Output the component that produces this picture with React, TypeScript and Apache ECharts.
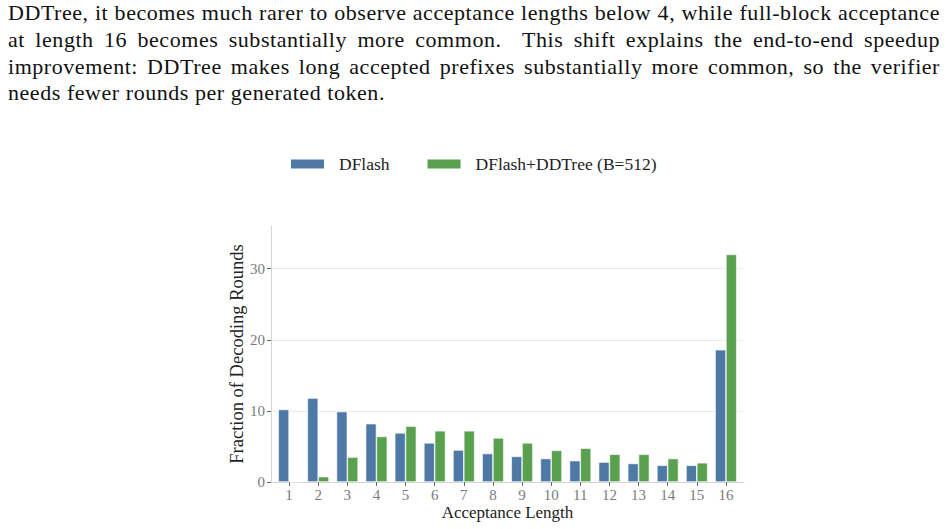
import React, { useEffect, useRef } from "react";
import * as echarts from "echarts";

const paragraphLines: string[] = [
  "DDTree, it becomes much rarer to observe acceptance lengths below 4, while full-block acceptance",
  "at length 16 becomes substantially more common.  This shift explains the end-to-end speedup",
  "improvement: DDTree makes long accepted prefixes substantially more common, so the verifier",
  "needs fewer rounds per generated token.",
];

const lengths: number[] = [1, 2, 3, 4, 5, 6, 7, 8, 9, 10, 11, 12, 13, 14, 15, 16];
const dflash: number[] = [10.2, 11.8, 9.9, 8.2, 6.9, 5.5, 4.5, 4.0, 3.6, 3.3, 3.0, 2.8, 2.6, 2.35, 2.35, 18.6];
const ddtree: number[] = [0.05, 0.75, 3.5, 6.4, 7.85, 7.2, 7.2, 6.2, 5.5, 4.45, 4.75, 3.9, 3.9, 3.3, 2.7, 32.0];
const yTicks: number[] = [0, 10, 20, 30];
const seriesNames: string[] = ["DFlash", "DFlash+DDTree (B=512)"];

const FONT = "'Liberation Serif', 'DejaVu Serif', serif";

export default function App() {
  const ref = useRef<HTMLDivElement>(null);

  useEffect(() => {
    if (!ref.current) return;
    const chart = echarts.init(ref.current, null, { renderer: "svg" });
    chart.setOption({
      animation: false,
      textStyle: { fontFamily: FONT },
      legend: {
        left: 289,
        top: 154,
        padding: 0,
        itemWidth: 35,
        itemHeight: 11,
        itemGap: 36,
        icon: "rect",
        data: seriesNames,
        textStyle: {
          fontFamily: FONT,
          fontSize: 17.5,
          color: "#222",
          padding: [0, 0, 0, 9],
          lineHeight: 20,
        },
      },
      grid: { left: 271, right: 203, top: 226, bottom: 47 },
      xAxis: {
        type: "value",
        min: 0.38,
        max: 16.62,
        name: "Acceptance Length",
        nameLocation: "middle",
        nameGap: 22,
        nameTextStyle: { fontFamily: FONT, fontSize: 17, color: "#222" },
        axisLine: { show: true, lineStyle: { color: "#d4d4d4", width: 1 } },
        axisTick: {
          show: true,
          length: 4,
          customValues: lengths,
          lineStyle: { color: "#666" },
        },
        axisLabel: {
          customValues: lengths,
          margin: 5,
          fontFamily: FONT,
          fontSize: 15,
          color: "#7a7a7a",
        },
        splitLine: { show: false },
      },
      yAxis: {
        type: "value",
        min: 0,
        max: 36,
        interval: 10,
        name: "Fraction of Decoding Rounds",
        nameLocation: "middle",
        nameGap: 19,
        nameTextStyle: { fontFamily: FONT, fontSize: 18.5, color: "#222" },
        axisLine: { show: true, lineStyle: { color: "#d4d4d4", width: 1 } },
        axisTick: {
          show: true,
          length: 4,
          customValues: yTicks,
          lineStyle: { color: "#666" },
        },
        axisLabel: {
          customValues: yTicks,
          margin: 6,
          fontFamily: FONT,
          fontSize: 15,
          color: "#7a7a7a",
        },
        splitLine: {
          show: true,
          showMinLine: false,
          lineStyle: { color: "#ebebeb", width: 1 },
        },
      },
      series: [
        {
          name: seriesNames[0],
          type: "bar",
          barWidth: 10.8,
          barGap: "0%",
          data: lengths.map((l, i) => [l, dflash[i]]),
          itemStyle: { color: "#4E79A7", borderColor: "#ffffff", borderWidth: 0.6 },
        },
        {
          name: seriesNames[1],
          type: "bar",
          barWidth: 10.8,
          barGap: "0%",
          data: lengths.map((l, i) => [l, ddtree[i]]),
          itemStyle: { color: "#59A14F", borderColor: "#ffffff", borderWidth: 0.6 },
        },
      ],
    });
    return () => chart.dispose();
  }, []);

  return (
    <div style={{ position: "fixed", left: 0, top: 0, width: 947, height: 529, background: "#fff" }}>
      <div ref={ref} style={{ position: "absolute", left: 0, top: 0, width: 947, height: 529 }} />
      <div
        style={{
          position: "absolute",
          left: 8,
          top: 0,
          width: 932,
          fontFamily: FONT,
          fontSize: 22,
          lineHeight: "26.8px",
          letterSpacing: "0.55px",
          color: "#111",
        }}
      >
        {paragraphLines.map((line, i) => (
          <div
            key={i}
            style={{
              textAlign: "justify",
              textAlignLast: i < paragraphLines.length - 1 ? "justify" : "left",
              whiteSpace: "pre",
            }}
          >
            {line}
          </div>
        ))}
      </div>
    </div>
  );
}
